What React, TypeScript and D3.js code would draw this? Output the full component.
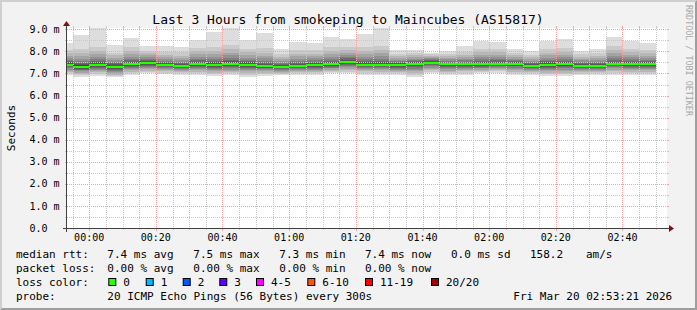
import React from "react";
import * as d3 from "d3";

const W = 697;
const H = 310;
const TITLE = "Last 3 Hours from smokeping to Maincubes (AS15817)";
const Y_LABEL = "Seconds";
const WATERMARK = "RRDTOOL / TOBI OETIKER";

// start time of each 5-minute column (HH:MM)
const columnStarts = [
  "23:50", "23:55", "00:00", "00:05", "00:10", "00:15", "00:20", "00:25", "00:30",
  "00:35", "00:40", "00:45", "00:50", "00:55", "01:00", "01:05", "01:10", "01:15",
  "01:20", "01:25", "01:30", "01:35", "01:40", "01:45", "01:50", "01:55", "02:00",
  "02:05", "02:10", "02:15", "02:20", "02:25", "02:30", "02:35", "02:40", "02:45",
];

// median rtt per column (ms)
const medians = [
  7.40, 7.31, 7.39, 7.30, 7.43, 7.47, 7.39, 7.34, 7.43, 7.40, 7.43, 7.39,
  7.34, 7.30, 7.34, 7.37, 7.41, 7.52, 7.40, 7.40, 7.40, 7.44, 7.49, 7.41,
  7.41, 7.41, 7.44, 7.44, 7.35, 7.40, 7.41, 7.35, 7.35, 7.44, 7.41, 7.41,
];

// 20 sorted ping rtts per column (ms)
const pings = [
  [6.95, 7.02, 7.08, 7.13, 7.18, 7.23, 7.28, 7.32, 7.35, 7.38, 7.42, 7.45, 7.50, 7.56, 7.63, 7.71, 7.80, 7.92, 8.05, 8.36],
  [6.85, 6.93, 6.99, 7.04, 7.09, 7.14, 7.18, 7.22, 7.26, 7.29, 7.33, 7.37, 7.42, 7.48, 7.56, 7.65, 7.77, 7.93, 8.10, 8.74],
  [6.90, 6.98, 7.05, 7.11, 7.16, 7.21, 7.26, 7.30, 7.34, 7.37, 7.41, 7.45, 7.50, 7.57, 7.65, 7.75, 7.88, 8.02, 8.20, 9.04],
  [6.83, 6.88, 6.94, 6.99, 7.05, 7.10, 7.15, 7.20, 7.24, 7.28, 7.32, 7.36, 7.41, 7.47, 7.54, 7.62, 7.71, 7.82, 7.95, 8.29],
  [6.93, 7.01, 7.08, 7.14, 7.19, 7.24, 7.29, 7.34, 7.38, 7.41, 7.45, 7.49, 7.54, 7.60, 7.67, 7.76, 7.87, 8.00, 8.18, 8.60],
  [7.00, 7.07, 7.13, 7.19, 7.24, 7.29, 7.34, 7.39, 7.42, 7.45, 7.49, 7.52, 7.56, 7.61, 7.67, 7.74, 7.82, 7.92, 8.03, 8.24],
  [6.97, 7.04, 7.10, 7.15, 7.20, 7.25, 7.29, 7.33, 7.36, 7.38, 7.40, 7.43, 7.47, 7.52, 7.58, 7.65, 7.74, 7.85, 7.99, 8.24],
  [6.93, 7.00, 7.06, 7.11, 7.16, 7.20, 7.24, 7.28, 7.31, 7.33, 7.35, 7.38, 7.42, 7.47, 7.53, 7.60, 7.69, 7.80, 7.96, 8.20],
  [6.93, 7.01, 7.08, 7.14, 7.20, 7.25, 7.30, 7.35, 7.39, 7.42, 7.44, 7.48, 7.53, 7.59, 7.67, 7.76, 7.87, 8.00, 8.16, 8.51],
  [6.87, 6.96, 7.04, 7.10, 7.16, 7.21, 7.26, 7.31, 7.35, 7.39, 7.41, 7.45, 7.50, 7.57, 7.65, 7.75, 7.88, 8.03, 8.22, 8.88],
  [6.92, 7.00, 7.07, 7.13, 7.18, 7.23, 7.28, 7.33, 7.37, 7.41, 7.45, 7.49, 7.55, 7.62, 7.71, 7.82, 7.95, 8.10, 8.30, 9.04],
  [6.85, 6.94, 7.02, 7.09, 7.15, 7.20, 7.25, 7.30, 7.34, 7.37, 7.41, 7.45, 7.50, 7.56, 7.63, 7.72, 7.83, 7.96, 8.12, 8.51],
  [6.88, 6.96, 7.03, 7.09, 7.14, 7.19, 7.23, 7.27, 7.30, 7.33, 7.35, 7.39, 7.44, 7.50, 7.58, 7.68, 7.80, 7.95, 8.14, 8.85],
  [6.92, 6.98, 7.03, 7.08, 7.12, 7.16, 7.20, 7.23, 7.26, 7.29, 7.31, 7.34, 7.38, 7.43, 7.49, 7.56, 7.65, 7.76, 7.89, 8.09],
  [6.93, 7.00, 7.06, 7.11, 7.16, 7.20, 7.24, 7.28, 7.31, 7.33, 7.35, 7.39, 7.44, 7.50, 7.57, 7.66, 7.77, 7.90, 8.06, 8.42],
  [6.93, 7.00, 7.06, 7.12, 7.17, 7.22, 7.26, 7.30, 7.33, 7.36, 7.38, 7.42, 7.47, 7.53, 7.60, 7.68, 7.78, 7.90, 8.05, 8.40],
  [7.00, 7.07, 7.13, 7.18, 7.23, 7.27, 7.31, 7.35, 7.38, 7.40, 7.42, 7.46, 7.51, 7.58, 7.66, 7.76, 7.88, 8.02, 8.20, 8.65],
  [7.00, 7.08, 7.15, 7.22, 7.28, 7.34, 7.39, 7.44, 7.48, 7.51, 7.53, 7.57, 7.62, 7.68, 7.75, 7.83, 7.93, 8.05, 8.19, 8.56],
  [6.95, 7.03, 7.10, 7.16, 7.21, 7.26, 7.30, 7.34, 7.37, 7.39, 7.41, 7.45, 7.50, 7.57, 7.65, 7.75, 7.87, 8.01, 8.18, 8.79],
  [6.93, 7.01, 7.08, 7.14, 7.19, 7.24, 7.29, 7.33, 7.36, 7.39, 7.41, 7.45, 7.51, 7.58, 7.67, 7.78, 7.91, 8.06, 8.25, 9.06],
  [6.93, 7.00, 7.06, 7.12, 7.17, 7.22, 7.27, 7.31, 7.35, 7.38, 7.41, 7.44, 7.48, 7.52, 7.57, 7.63, 7.70, 7.79, 7.90, 8.05],
  [6.85, 6.94, 7.02, 7.09, 7.16, 7.22, 7.28, 7.33, 7.38, 7.42, 7.45, 7.48, 7.52, 7.56, 7.61, 7.67, 7.74, 7.82, 7.92, 8.05],
  [7.00, 7.08, 7.15, 7.21, 7.27, 7.32, 7.37, 7.41, 7.45, 7.48, 7.50, 7.53, 7.56, 7.60, 7.64, 7.69, 7.75, 7.81, 7.88, 7.95],
  [6.93, 7.00, 7.07, 7.13, 7.19, 7.24, 7.29, 7.33, 7.37, 7.40, 7.42, 7.45, 7.49, 7.53, 7.58, 7.64, 7.71, 7.79, 7.88, 8.00],
  [6.95, 7.02, 7.09, 7.15, 7.20, 7.25, 7.30, 7.34, 7.37, 7.40, 7.42, 7.45, 7.49, 7.54, 7.60, 7.67, 7.75, 7.85, 7.98, 8.24],
  [7.00, 7.07, 7.13, 7.18, 7.23, 7.27, 7.31, 7.35, 7.38, 7.40, 7.42, 7.46, 7.51, 7.57, 7.64, 7.73, 7.84, 7.97, 8.13, 8.48],
  [7.02, 7.09, 7.15, 7.20, 7.25, 7.30, 7.34, 7.38, 7.41, 7.43, 7.45, 7.49, 7.54, 7.60, 7.67, 7.75, 7.85, 7.97, 8.12, 8.41],
  [6.93, 7.01, 7.08, 7.15, 7.21, 7.27, 7.32, 7.36, 7.40, 7.43, 7.45, 7.48, 7.52, 7.56, 7.61, 7.67, 7.74, 7.83, 7.94, 8.10],
  [6.93, 7.00, 7.06, 7.11, 7.16, 7.21, 7.25, 7.29, 7.32, 7.34, 7.36, 7.39, 7.43, 7.47, 7.52, 7.58, 7.65, 7.74, 7.85, 8.00],
  [6.87, 6.96, 7.04, 7.11, 7.17, 7.22, 7.27, 7.31, 7.35, 7.38, 7.41, 7.45, 7.50, 7.56, 7.63, 7.72, 7.82, 7.95, 8.10, 8.48],
  [6.87, 6.96, 7.04, 7.11, 7.17, 7.23, 7.28, 7.32, 7.36, 7.39, 7.42, 7.46, 7.51, 7.57, 7.65, 7.74, 7.85, 7.98, 8.14, 8.56],
  [6.92, 6.99, 7.05, 7.11, 7.16, 7.20, 7.24, 7.28, 7.31, 7.34, 7.36, 7.40, 7.44, 7.49, 7.54, 7.60, 7.67, 7.75, 7.86, 8.02],
  [6.93, 7.00, 7.07, 7.12, 7.17, 7.22, 7.26, 7.29, 7.32, 7.34, 7.36, 7.39, 7.43, 7.48, 7.54, 7.61, 7.69, 7.79, 7.92, 8.10],
  [6.93, 7.02, 7.10, 7.17, 7.23, 7.28, 7.33, 7.37, 7.40, 7.43, 7.45, 7.49, 7.54, 7.61, 7.69, 7.79, 7.91, 8.06, 8.24, 8.66],
  [6.93, 7.01, 7.08, 7.14, 7.19, 7.24, 7.29, 7.33, 7.37, 7.40, 7.42, 7.46, 7.51, 7.57, 7.64, 7.73, 7.84, 7.97, 8.12, 8.48],
  [6.93, 7.01, 7.08, 7.14, 7.20, 7.25, 7.29, 7.33, 7.37, 7.40, 7.42, 7.46, 7.50, 7.55, 7.62, 7.70, 7.80, 7.92, 8.07, 8.36],
];

const xTickLabels = ["00:00", "00:20", "00:40", "01:00", "01:20", "01:40", "02:00", "02:20", "02:40"];
const yTickValues = [0, 1, 2, 3, 4, 5, 6, 7, 8, 9];
const yTickLabels = ["0.0  ", "1.0 m", "2.0 m", "3.0 m", "4.0 m", "5.0 m", "6.0 m", "7.0 m", "8.0 m", "9.0 m"];

const rttLabel = "median rtt:";
const rttStats = ["7.4 ms avg", "7.5 ms max", "7.3 ms min", "7.4 ms now", "0.0 ms sd", "158.2", "am/s"];
const lossLabel = "packet loss:";
const lossStats = ["0.00 % avg", "0.00 % max", "0.00 % min", "0.00 % now"];
const lossColorLabel = "loss color:";
const lossLabels = ["0", "1", "2", "3", "4-5", "6-10", "11-19", "20/20"];
const lossColors = ["#26ff00", "#00b8ff", "#0059ff", "#5e00ff", "#ff00fe", "#ff5500", "#ff0000", "#a10000"];
const probeLabel = "probe:";
const probeText = "20 ICMP Echo Pings (56 Bytes) every 300s";
const dateText = "Fri Mar 20 02:53:21 2026";

// time range (seconds relative to midnight)
const T_START = -399; // 23:53:21
const T_END = 10401; // 02:53:21
const STEP = 300;

// layout
const X0 = 67;
const X1 = 667;
const Y0 = 228;
const Y1 = 28;
const STAT_X = [107.3, 193.3, 279.3, 365, 451, 530, 586];
const BOX_X = [108.3, 145.7, 182.7, 219.3, 256, 307.3, 365, 431];
const FONT = "'DejaVu Sans Mono', monospace";

function toSec(s: string): number {
  const [h, m] = s.split(":").map(Number);
  return (h >= 12 ? h - 24 : h) * 3600 + m * 60;
}

export default function App() {
  const x = d3.scaleLinear().domain([T_START, T_END]).range([X0, X1]);
  const y = d3.scaleLinear().domain([0, 9.06]).range([Y0, Y1]);

  const starts = columnStarts.map(toSec);

  // grid positions
  const minorX = d3.range(Math.ceil(T_START / STEP) * STEP, T_END, STEP).filter((t) => t % 1200 !== 0);
  const majorX = xTickLabels.map(toSec);
  const minorY = d3.range(0.5, 9.06, 1);
  const majorY = yTickValues.filter((v) => v > 0);

  const px = (v: number) => Math.round(v) + 0.5;

  const smoke: JSX.Element[] = [];
  starts.forEach((t, ci) => {
    const p = pings[ci];
    const xa = Math.round(x(t));
    const xb = Math.round(x(t + STEP));
    for (let i = 0; i < 10; i++) {
      const g = Math.floor((190 / 10) * (10 - (i + 1))) + 50;
      const col = d3.rgb(g, g, g).formatHex();
      const yt = Math.round(y(p[19 - i]));
      const yb = Math.round(y(p[i]));
      smoke.push(
        <rect key={`s${ci}-${i}`} x={xa} y={yt} width={xb - xa} height={Math.max(0, yb - yt)} fill={col} />
      );
    }
  });

  const medianMarks = starts.map((t, ci) => {
    const xa = Math.round(x(t));
    const xb = Math.round(x(t + STEP));
    const ym = Math.round(y(medians[ci]));
    return <rect key={`m${ci}`} x={xa} y={ym - 1} width={xb - xa} height={2} fill={lossColors[0]} />;
  });

  const minorColor = "#c8c8c8";
  const majorColor = "#f2a4a4";

  return (
    <svg
      width={W}
      height={H}
      style={{ position: "absolute", left: 0, top: 0, display: "block" }}
      xmlns="http://www.w3.org/2000/svg"
    >
      <defs>
        <clipPath id="plotclip">
          <rect x={X0} y={Y1} width={X1 - X0} height={Y0 - Y1} />
        </clipPath>
      </defs>
      {/* background and frame */}
      <rect x={0} y={0} width={W} height={H} fill="#f2f2f2" />
      <polygon points={`0,${H} 2,${H - 2} 2,2 ${W - 2},2 ${W},0 0,0`} fill="#cfcfcf" />
      <polygon points={`2,${H - 2} ${W - 2},${H - 2} ${W - 2},2 ${W},0 ${W},${H} 0,${H}`} fill="#9e9e9e" />

      {/* canvas */}
      <rect x={X0} y={Y1} width={X1 - X0} height={Y0 - Y1} fill="#ffffff" />

      {/* smoke */}
      <g clipPath="url(#plotclip)" shapeRendering="crispEdges">
        {smoke}
      </g>

      {/* grid */}
      <g shapeRendering="crispEdges">
        {minorY.map((v) => (
          <g key={`my${v}`}>
            <line x1={X0 - 2} x2={X1 + 2} y1={px(y(v))} y2={px(y(v))} stroke={minorColor} strokeDasharray="1,1" />
            <line x1={X0 - 2} x2={X0} y1={px(y(v))} y2={px(y(v))} stroke={minorColor} />
            <line x1={X1} x2={X1 + 2} y1={px(y(v))} y2={px(y(v))} stroke={minorColor} />
          </g>
        ))}
        {minorX.map((t) => (
          <g key={`mx${t}`}>
            <line x1={px(x(t))} x2={px(x(t))} y1={Y1 - 2} y2={Y0 + 2} stroke={minorColor} strokeDasharray="1,1" />
            <line x1={px(x(t))} x2={px(x(t))} y1={Y0} y2={Y0 + 2} stroke={minorColor} />
            <line x1={px(x(t))} x2={px(x(t))} y1={Y1 - 2} y2={Y1} stroke={minorColor} />
          </g>
        ))}
        {majorY.map((v) => (
          <g key={`My${v}`}>
            <line x1={X0 - 2} x2={X1 + 2} y1={px(y(v))} y2={px(y(v))} stroke={majorColor} strokeDasharray="1,1" />
            <line x1={X0 - 2} x2={X0} y1={px(y(v))} y2={px(y(v))} stroke={majorColor} />
            <line x1={X1} x2={X1 + 2} y1={px(y(v))} y2={px(y(v))} stroke={majorColor} />
          </g>
        ))}
        {majorX.map((t) => (
          <g key={`Mx${t}`}>
            <line x1={px(x(t))} x2={px(x(t))} y1={Y1 - 2} y2={Y0 + 2} stroke={majorColor} strokeDasharray="1,1" />
            <line x1={px(x(t))} x2={px(x(t))} y1={Y0} y2={Y0 + 3} stroke={majorColor} />
            <line x1={px(x(t))} x2={px(x(t))} y1={Y1 - 2} y2={Y1} stroke={majorColor} />
          </g>
        ))}
      </g>

      {/* median line */}
      <g clipPath="url(#plotclip)" shapeRendering="crispEdges">
        {medianMarks}
      </g>

      {/* axes */}
      <g shapeRendering="crispEdges">
        <line x1={X0 - 4} x2={X1 + 4} y1={Y0 + 0.5} y2={Y0 + 0.5} stroke="#404040" />
        <line x1={X0 - 0.5} x2={X0 - 0.5} y1={Y0 + 4} y2={Y1 - 4} stroke="#404040" />
      </g>
      <polygon points={`${X1 + 2},${Y0 - 3} ${X1 + 2},${Y0 + 4} ${X1 + 7},${Y0 + 0.5}`} fill="#801010" />
      <polygon points={`${X0 - 4},${Y1 - 2} ${X0 + 3},${Y1 - 2} ${X0 - 0.5},${Y1 - 7}`} fill="#801010" />

      {/* axis labels */}
      <g fontFamily={FONT} fontSize={10} fill="#000">
        {yTickValues.map((v, i) => (
          <text key={`yl${v}`} x={29.5} y={y(v) + 3.6} style={{ whiteSpace: "pre" }}>
            {yTickLabels[i]}
          </text>
        ))}
        {xTickLabels.map((l) => (
          <text key={`xl${l}`} x={x(toSec(l))} y={240.7} textAnchor="middle">
            {l}
          </text>
        ))}
      </g>

      {/* title */}
      <text x={348} y={23.7} textAnchor="middle" fontFamily={FONT} fontSize={13} fill="#000">
        {TITLE}
      </text>

      {/* y label */}
      <text
        transform={`translate(15,${(Y0 + Y1) / 2}) rotate(-90)`}
        textAnchor="middle"
        fontFamily={FONT}
        fontSize={11}
        fill="#000"
      >
        {Y_LABEL}
      </text>

      {/* watermark */}
      <text
        transform={`translate(686,5) rotate(90)`}
        fontFamily={FONT}
        fontSize={8.4}
        fill="#a8a8a8"
      >
        {WATERMARK}
      </text>

      {/* legend */}
      <g fontFamily={FONT} fontSize={11} fill="#000" style={{ whiteSpace: "pre" }}>
        <text x={16} y={258}>{rttLabel}</text>
        {rttStats.map((s, i) => (
          <text key={`r${i}`} x={STAT_X[i]} y={258}>{s}</text>
        ))}
        <text x={16} y={272}>{lossLabel}</text>
        {lossStats.map((s, i) => (
          <text key={`l${i}`} x={STAT_X[i]} y={272}>{s}</text>
        ))}
        <text x={16} y={286}>{lossColorLabel}</text>
        {lossLabels.map((s, i) => (
          <g key={`lc${i}`}>
            <rect x={BOX_X[i] + 0.5} y={278.5} width={7} height={7} fill={lossColors[i]} stroke="#000" strokeWidth={1} />
            <text x={BOX_X[i] + 15} y={286}>{s}</text>
          </g>
        ))}
        <text x={16} y={300}>{probeLabel}</text>
        <text x={STAT_X[0]} y={300}>{probeText}</text>
        <text x={513.3} y={300}>{dateText}</text>
      </g>
    </svg>
  );
}
